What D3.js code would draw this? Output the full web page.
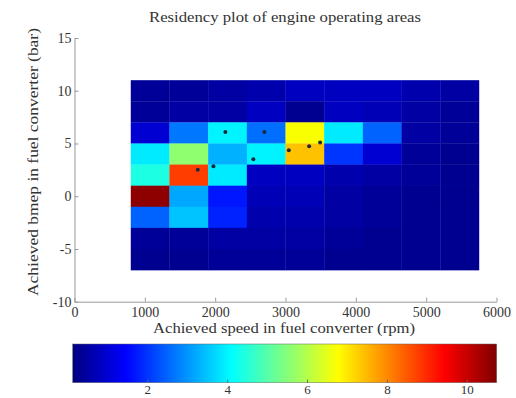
<!DOCTYPE html>
<html>
<head>
<meta charset="utf-8">
<script src="https://cdn.jsdelivr.net/npm/d3@7"></script>
<style>
  body { margin: 0; background: #fff; }
  svg { display: block; }
  text { font-family: "Liberation Serif", "DejaVu Serif", serif; fill: #333; }
</style>
</head>
<body>
<div id="chart"></div>
<script>
// bin centres of the residency grid
const speedBins = [1075, 1625, 2175, 2725, 3275, 3825, 4375, 4925, 5475];
const bmepBins = [10, 8, 6, 4, 2, 0, -2, -4, -6];
const speedStep = 550;
const bmepStep = 2;

// residency per cell, one row per bmep bin (top to bottom)
const residency = [
  [0.4, 0.4, 0.5, 0.6, 0.8, 0.8, 0.8, 0.6, 0.5],
  [0.4, 0.5, 0.5, 0.8, 0.3, 0.8, 0.7, 0.5, 0.4],
  [1.0, 2.7, 4.0, 2.6, 6.7, 3.9, 2.5, 0.5, 0.4],
  [3.9, 5.6, 3.3, 4.0, 7.4, 2.0, 1.0, 0.4, 0.3],
  [4.4, 8.8, 3.9, 0.8, 0.8, 0.6, 0.5, 0.4, 0.3],
  [10.6, 3.2, 1.7, 0.7, 0.7, 0.5, 0.4, 0.3, 0.3],
  [2.5, 3.5, 1.8, 0.6, 0.6, 0.5, 0.4, 0.3, 0.3],
  [0.4, 0.4, 0.5, 0.5, 0.5, 0.4, 0.3, 0.3, 0.3],
  [0.3, 0.3, 0.4, 0.4, 0.4, 0.3, 0.3, 0.3, 0.3]
];

// operating points drawn on top
const opSpeed = [2145, 2700, 1752, 1975, 2543, 3047, 3336, 3492];
const opBmep = [6.1, 6.1, 2.5, 2.85, 3.5, 4.35, 4.74, 5.1];

const xTicks = [0, 1000, 2000, 3000, 4000, 5000, 6000];
const yTicks = [-10, -5, 0, 5, 10, 15];
const colorTicks = [2, 4, 6, 8, 10];
const colorMin = 0.13, colorMax = 10.75;

const width = 516, height = 398;

const svg = d3.select("#chart").append("svg")
  .attr("width", width)
  .attr("height", height);

// matlab style jet colormap
function jet(t) {
  t = Math.max(0, Math.min(1, t));
  const c = v => Math.round(255 * Math.max(0, Math.min(1, v)));
  return d3.rgb(c(1.5 - Math.abs(4 * t - 3)), c(1.5 - Math.abs(4 * t - 2)), c(1.5 - Math.abs(4 * t - 1)));
}
const color = v => jet((v - colorMin) / (colorMax - colorMin));

const x = d3.scaleLinear().domain([0, 6000]).range([74.5, 496.5]);
const y = d3.scaleLinear().domain([-10, 15]).range([301.7, 38]);

const defs = svg.append("defs");
defs.append("filter").attr("id", "soft")
  .append("feGaussianBlur").attr("stdDeviation", 0.6);

// cells
const cells = [];
bmepBins.forEach((b, i) => speedBins.forEach((s, j) => cells.push({ s, b, v: residency[i][j] })));

svg.append("g")
  .attr("filter", "url(#soft)")
  .selectAll("rect")
  .data(cells)
  .enter()
  .append("rect")
  .attr("x", d => x(d.s - speedStep / 2))
  .attr("y", d => y(d.b + bmepStep / 2))
  .attr("width", d => x(d.s + speedStep / 2) - x(d.s - speedStep / 2) + 0.3)
  .attr("height", d => y(d.b - bmepStep / 2) - y(d.b + bmepStep / 2) + 0.3)
  .attr("fill", d => color(d.v));

// operating points
svg.append("g")
  .selectAll("circle")
  .data(opSpeed.map((s, i) => ({ s, b: opBmep[i] })))
  .enter()
  .append("circle")
  .attr("cx", d => x(d.s))
  .attr("cy", d => y(d.b))
  .attr("r", 2)
  .attr("fill", "#1a2a3a");

// axes
const plain = d => String(d);
const xAxis = svg.append("g")
  .attr("transform", "translate(0," + y(-10) + ")")
  .call(d3.axisBottom(x).tickValues(xTicks).tickFormat(plain).tickSizeInner(-4).tickSizeOuter(0).tickPadding(5));
const yAxis = svg.append("g")
  .attr("transform", "translate(" + x(0) + ",0)")
  .call(d3.axisLeft(y).tickValues(yTicks).tickFormat(plain).tickSizeInner(-4).tickSizeOuter(0).tickPadding(3));

[xAxis, yAxis].forEach(g => {
  g.select(".domain").attr("stroke", "#999");
  g.selectAll(".tick line").attr("stroke", "#999");
  g.selectAll(".tick text")
    .style("font-family", "Liberation Serif, serif")
    .style("font-size", "14px")
    .attr("fill", "#444");
});

// titles
svg.append("text")
  .attr("x", 285).attr("y", 22)
  .attr("text-anchor", "middle")
  .attr("textLength", 272).attr("lengthAdjust", "spacingAndGlyphs")
  .style("font-size", "14px")
  .text("Residency plot of engine operating areas");

svg.append("text")
  .attr("x", 284).attr("y", 333)
  .attr("text-anchor", "middle")
  .attr("textLength", 262).attr("lengthAdjust", "spacingAndGlyphs")
  .style("font-size", "15px")
  .text("Achieved speed in fuel converter (rpm)");

svg.append("text")
  .attr("transform", "translate(38,162) rotate(-90)")
  .attr("text-anchor", "middle")
  .attr("textLength", 268).attr("lengthAdjust", "spacingAndGlyphs")
  .style("font-size", "15px")
  .text("Achieved bmep in fuel converter (bar)");

// colorbar
const cb = d3.scaleLinear().domain([colorMin, colorMax]).range([72.7, 496.7]);
const grad = defs.append("linearGradient").attr("id", "jet");
d3.range(0, 33).forEach(k => {
  grad.append("stop")
    .attr("offset", (k / 32 * 100) + "%")
    .attr("stop-color", jet(k / 32));
});

svg.append("rect")
  .attr("x", cb(colorMin)).attr("y", 344)
  .attr("width", cb(colorMax) - cb(colorMin)).attr("height", 38.7)
  .attr("fill", "url(#jet)")
  .attr("stroke", "#666")
  .attr("stroke-width", 0.5);

const cAxis = svg.append("g")
  .attr("transform", "translate(0,382.7)")
  .call(d3.axisBottom(cb).tickValues(colorTicks).tickFormat(plain).tickSizeInner(-3).tickSizeOuter(0).tickPadding(3));
cAxis.select(".domain").remove();
cAxis.selectAll(".tick line").attr("stroke", "#666");
cAxis.selectAll(".tick text")
  .attr("dy", "0.6em")
  .style("font-family", "Liberation Serif, serif")
  .style("font-size", "13px")
  .attr("fill", "#444");
</script>
</body>
</html>
